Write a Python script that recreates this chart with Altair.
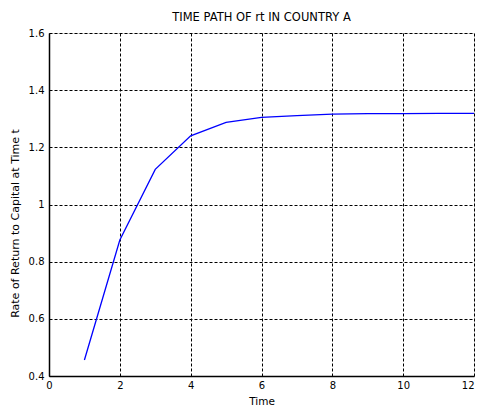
import altair as alt
import pandas as pd

time = [1, 2, 3, 4, 5, 6, 7, 8, 9, 10, 11, 12]
rt = [0.456, 0.876, 1.123, 1.240, 1.287, 1.305, 1.311, 1.316, 1.318, 1.318, 1.319, 1.319]

df = pd.DataFrame({"Time": time, "rt": rt})

FONT = "DejaVu Sans"

chart = alt.Chart(df).mark_line(color="#0000ff", strokeWidth=1.3).encode(
    x=alt.X("Time:Q",
            scale=alt.Scale(domain=[0, 12], nice=False, zero=False),
            axis=alt.Axis(values=[0, 2, 4, 6, 8, 10, 12], title="Time",
                          labelFontSize=10, titleFontSize=10.5, titleFontWeight="normal",
                          labelPadding=4, titlePadding=6, tickSize=0,
                          labelAlign={"condition": {"test": "datum.value == 12", "value": "right"},
                                      "value": "center"},
                          grid=True, gridColor="black", gridDash=[3, 2], gridWidth=1,
                          gridOpacity=1, domainColor="black", domainWidth=1.5,
                          labelColor="black", titleColor="black",
                          labelFont=FONT, titleFont=FONT)),
    y=alt.Y("rt:Q",
            scale=alt.Scale(domain=[0.4, 1.6], nice=False, zero=False),
            axis=alt.Axis(values=[0.4, 0.6, 0.8, 1.0, 1.2, 1.4, 1.6],
                          title="Rate of Return to Capital at Time t", format="~g",
                          labelFontSize=10, titleFontSize=11, titleFontWeight="normal",
                          labelPadding=5, tickSize=0,
                          titleAngle=270, titleX=-31, titleY=190, titleAlign="center",
                          titleBaseline="alphabetic",
                          grid=True, gridColor="black", gridDash=[3, 2], gridWidth=1,
                          gridOpacity=1, domainColor="black", domainWidth=1.5,
                          labelColor="black", titleColor="black",
                          labelFont=FONT, titleFont=FONT)),
).properties(
    width=425, height=343,
    title=alt.TitleParams("TIME PATH OF rt IN COUNTRY A", fontSize=11.5, font=FONT,
                          fontWeight="normal", color="black", anchor="middle", offset=5),
    autosize=alt.AutoSizeParams(type="none"),
    padding={"left": 41, "top": 25, "right": 1, "bottom": 30},
).configure_view(stroke="black", strokeWidth=1.5).configure(background="white")

chart.save("out.html", embed_options={"renderer": "svg", "actions": False})
